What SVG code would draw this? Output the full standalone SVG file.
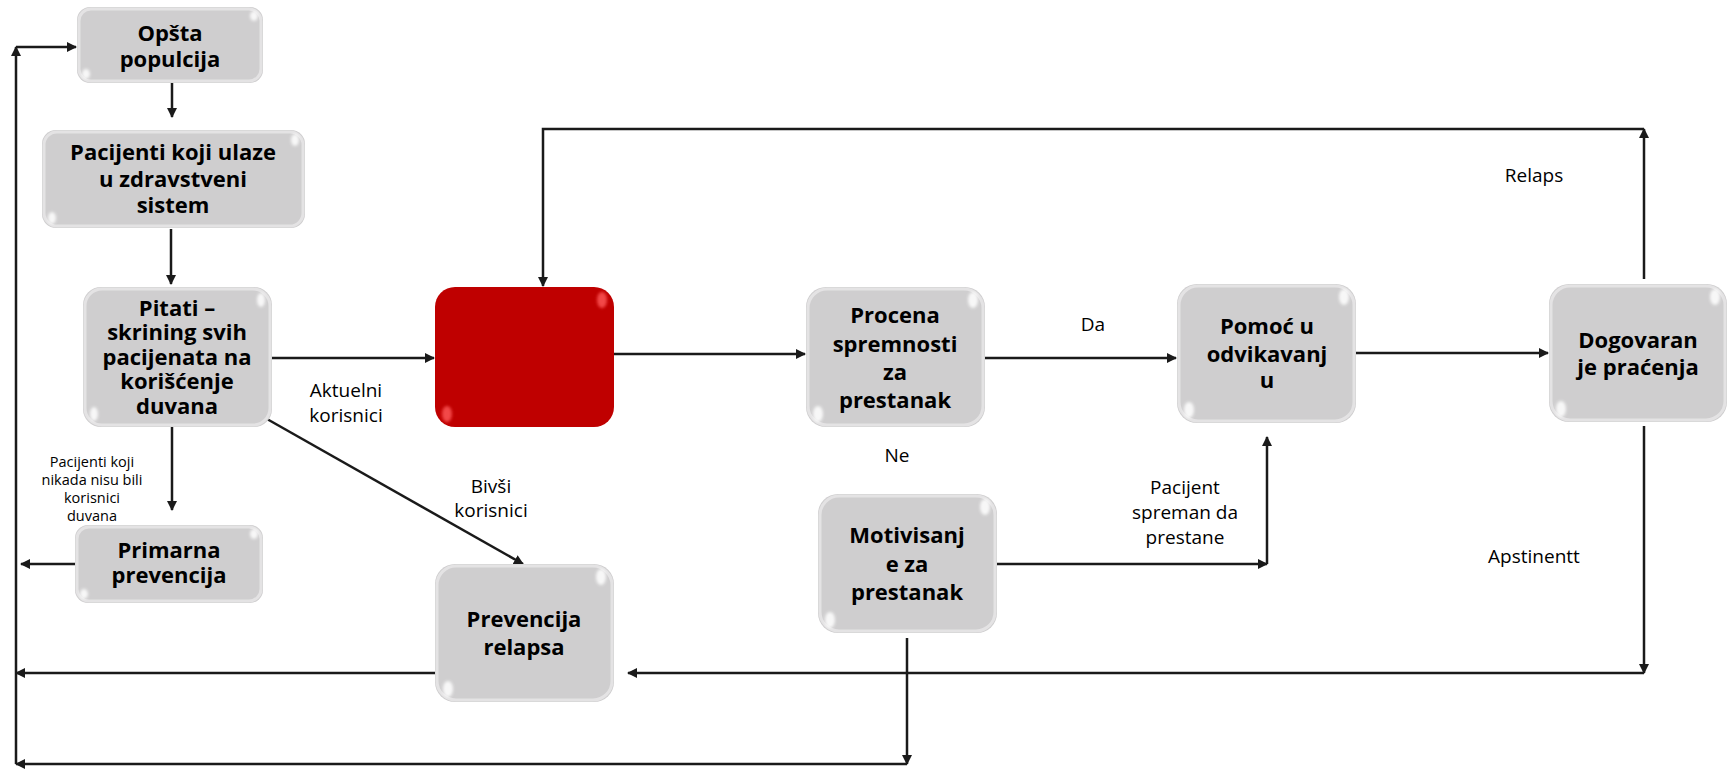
<svg xmlns="http://www.w3.org/2000/svg" width="1735" height="769" viewBox="0 0 1735 769">
<defs>
<style>
.box{fill:#cfcecf;}
.rim{fill:none;stroke:#e4e3e4;stroke-width:3;}
.red{fill:#bf0000;}
.hl{fill:#ffffff;opacity:0.85;}
.hlr{fill:#ff5a5a;opacity:0.8;}
.t{font-family:"Open Sans","Liberation Sans",sans-serif;font-weight:bold;font-size:22px;fill:#000;text-anchor:middle;}
.l{font-family:"Open Sans","Liberation Sans",sans-serif;font-size:19px;fill:#000;text-anchor:middle;}
.s{font-family:"Open Sans","Liberation Sans",sans-serif;font-size:14.5px;fill:#000;text-anchor:middle;}
.c{fill:none;stroke:#1a1a1a;stroke-width:2.5;}
</style>
<marker id="ah" viewBox="0 0 10 10" refX="9" refY="5" markerWidth="4" markerHeight="4" orient="auto" markerUnits="strokeWidth">
<path d="M0,0 L10,5 L0,10 z" fill="#1a1a1a"/>
</marker>
<filter id="blur" x="-50%" y="-50%" width="200%" height="200%"><feGaussianBlur stdDeviation="1.5"/></filter>
</defs>

<g id="connectors">
<path class="c" d="M172,83 V117" marker-end="url(#ah)"/>
<path class="c" d="M171,229 V284" marker-end="url(#ah)"/>
<path class="c" d="M172,427 V510" marker-end="url(#ah)"/>
<path class="c" d="M75,564 H21" marker-end="url(#ah)"/>
<path class="c" d="M272,358 H434" marker-end="url(#ah)"/>
<path class="c" d="M267,419 L523,564" marker-end="url(#ah)"/>
<path class="c" d="M435,673 H16" marker-end="url(#ah)"/>
<path class="c" d="M16,764 V47" marker-end="url(#ah)"/>
<path class="c" d="M16,47 H76" marker-end="url(#ah)"/>
<path class="c" d="M907,638 V764" marker-end="url(#ah)"/>
<path class="c" d="M907,764 H16" marker-end="url(#ah)"/>
<path class="c" d="M614,354 H805" marker-end="url(#ah)"/>
<path class="c" d="M985,358 H1176" marker-end="url(#ah)"/>
<path class="c" d="M997,564 H1267" marker-end="url(#ah)"/>
<path class="c" d="M1267,564 V437" marker-end="url(#ah)"/>
<path class="c" d="M1356,353 H1548" marker-end="url(#ah)"/>
<path class="c" d="M1644,279 V129" marker-end="url(#ah)"/>
<path class="c" d="M1644,129 H543 V286" marker-end="url(#ah)"/>
<path class="c" d="M1644,426 V673" marker-end="url(#ah)"/>
<path class="c" d="M1644,673 H628" marker-end="url(#ah)"/>
</g>

<g id="labels">
<text class="l" x="346" y="397">Aktuelni</text>
<text class="l" x="346" y="422">korisnici</text>
<text class="l" x="491" y="493">Bivši</text>
<text class="l" x="491" y="517">korisnici</text>
<text class="s" x="92" y="467">Pacijenti koji</text>
<text class="s" x="92" y="485">nikada nisu bili</text>
<text class="s" x="92" y="503">korisnici</text>
<text class="s" x="92" y="521">duvana</text>
<text class="l" x="1093" y="331">Da</text>
<text class="l" x="897" y="462">Ne</text>
<text class="l" x="1185" y="494">Pacijent</text>
<text class="l" x="1185" y="519">spreman da</text>
<text class="l" x="1185" y="544">prestane</text>
<text class="l" x="1534" y="182">Relaps</text>
<text class="l" x="1534" y="563">Apstinentt</text>
</g>

<g id="n-opsta">
<rect class="box" x="77" y="7" width="186" height="76" rx="13"/>
<rect class="rim" x="79" y="9" width="182" height="72" rx="12"/>
<ellipse class="hl" cx="254" cy="16" rx="4" ry="5" filter="url(#blur)"/>
<ellipse class="hl" cx="86" cy="74" rx="4" ry="5" filter="url(#blur)"/>
<text class="t" x="170" y="41">Opšta</text>
<text class="t" x="170" y="67">populcija</text>
</g>

<g id="n-pacijenti">
<rect class="box" x="42" y="130" width="263" height="98" rx="14"/>
<rect class="rim" x="44" y="132" width="259" height="94" rx="13"/>
<ellipse class="hl" cx="295" cy="140" rx="4" ry="6" filter="url(#blur)"/>
<ellipse class="hl" cx="52" cy="218" rx="4" ry="6" filter="url(#blur)"/>
<text class="t" x="173" y="160">Pacijenti koji ulaze</text>
<text class="t" x="173" y="187">u zdravstveni</text>
<text class="t" x="173" y="213">sistem</text>
</g>

<g id="n-pitati">
<rect class="box" x="83" y="287" width="189" height="140" rx="18"/>
<rect class="rim" x="85" y="289" width="185" height="136" rx="17"/>
<ellipse class="hl" cx="261" cy="300" rx="4" ry="7" filter="url(#blur)"/>
<ellipse class="hl" cx="94" cy="414" rx="4" ry="7" filter="url(#blur)"/>
<text class="t" x="177" y="316">Pitati –</text>
<text class="t" x="177" y="340">skrining svih</text>
<text class="t" x="177" y="365">pacijenata na</text>
<text class="t" x="177" y="389">korišćenje</text>
<text class="t" x="177" y="414">duvana</text>
</g>

<g id="n-primarna">
<rect class="box" x="75" y="525" width="188" height="78" rx="13"/>
<rect class="rim" x="77" y="527" width="184" height="74" rx="12"/>
<ellipse class="hl" cx="254" cy="534" rx="4" ry="5" filter="url(#blur)"/>
<ellipse class="hl" cx="84" cy="594" rx="4" ry="5" filter="url(#blur)"/>
<text class="t" x="169" y="558">Primarna</text>
<text class="t" x="169" y="583">prevencija</text>
</g>

<g id="n-red">
<rect class="red" x="435" y="287" width="179" height="140" rx="20"/>
<ellipse class="hlr" cx="602" cy="300" rx="5" ry="8" filter="url(#blur)"/>
<ellipse class="hlr" cx="447" cy="414" rx="5" ry="8" filter="url(#blur)"/>
</g>

<g id="n-prevencija">
<rect class="box" x="435" y="564" width="179" height="138" rx="20"/>
<rect class="rim" x="437" y="566" width="175" height="134" rx="19"/>
<ellipse class="hl" cx="601" cy="577" rx="5" ry="8" filter="url(#blur)"/>
<ellipse class="hl" cx="448" cy="689" rx="5" ry="8" filter="url(#blur)"/>
<text class="t" x="524" y="627">Prevencija</text>
<text class="t" x="524" y="655">relapsa</text>
</g>

<g id="n-procena">
<rect class="box" x="806" y="287" width="179" height="140" rx="20"/>
<rect class="rim" x="808" y="289" width="175" height="136" rx="19"/>
<ellipse class="hl" cx="973" cy="300" rx="5" ry="8" filter="url(#blur)"/>
<ellipse class="hl" cx="818" cy="414" rx="5" ry="8" filter="url(#blur)"/>
<text class="t" x="895" y="323">Procena</text>
<text class="t" x="895" y="352">spremnosti</text>
<text class="t" x="895" y="380">za</text>
<text class="t" x="895" y="408">prestanak</text>
</g>

<g id="n-motivisanje">
<rect class="box" x="818" y="494" width="179" height="139" rx="20"/>
<rect class="rim" x="820" y="496" width="175" height="135" rx="19"/>
<ellipse class="hl" cx="985" cy="507" rx="5" ry="8" filter="url(#blur)"/>
<ellipse class="hl" cx="830" cy="620" rx="5" ry="8" filter="url(#blur)"/>
<text class="t" x="907" y="543">Motivisanj</text>
<text class="t" x="907" y="572">e za</text>
<text class="t" x="907" y="600">prestanak</text>
</g>

<g id="n-pomoc">
<rect class="box" x="1177" y="284" width="179" height="139" rx="20"/>
<rect class="rim" x="1179" y="286" width="175" height="135" rx="19"/>
<ellipse class="hl" cx="1344" cy="297" rx="5" ry="8" filter="url(#blur)"/>
<ellipse class="hl" cx="1189" cy="410" rx="5" ry="8" filter="url(#blur)"/>
<text class="t" x="1267" y="334">Pomoć u</text>
<text class="t" x="1267" y="362">odvikavanj</text>
<text class="t" x="1267" y="388">u</text>
</g>

<g id="n-dogovaranje">
<rect class="box" x="1549" y="284" width="178" height="138" rx="20"/>
<rect class="rim" x="1551" y="286" width="174" height="134" rx="19"/>
<ellipse class="hl" cx="1715" cy="297" rx="5" ry="8" filter="url(#blur)"/>
<ellipse class="hl" cx="1561" cy="409" rx="5" ry="8" filter="url(#blur)"/>
<text class="t" x="1638" y="348">Dogovaran</text>
<text class="t" x="1638" y="375">je praćenja</text>
</g>
</svg>
